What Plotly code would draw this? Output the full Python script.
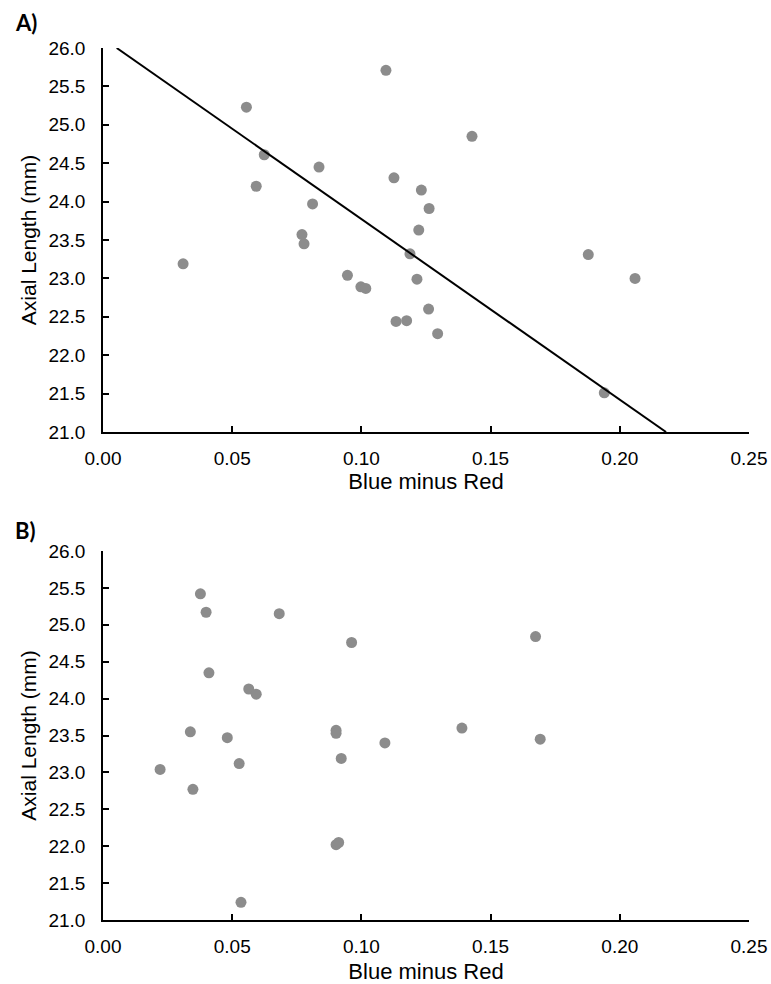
import plotly.graph_objects as go
from plotly.subplots import make_subplots

# Panel A data
a_x = [0.0555, 0.1095, 0.0624, 0.0836, 0.0593, 0.1126, 0.0811, 0.0770, 0.0778,
       0.1428, 0.1232, 0.1262, 0.1222, 0.0310, 0.0946, 0.0998, 0.1017, 0.1134,
       0.1188, 0.1878, 0.1215, 0.2059, 0.1260, 0.1175, 0.1295, 0.1940]
a_y = [25.23, 25.71, 24.61, 24.45, 24.20, 24.31, 23.97, 23.57, 23.45,
       24.85, 24.15, 23.91, 23.63, 23.19, 23.04, 22.89, 22.87, 22.44,
       23.32, 23.31, 22.99, 23.00, 22.60, 22.45, 22.28, 21.51]
# Panel A regression line end points
trend_x = [0.0053, 0.2179]
trend_y = [26.0, 21.0]

# Panel B data
b_x = [0.0377, 0.0399, 0.0682, 0.0962, 0.0410, 0.0564, 0.0593, 0.1674, 0.0338,
       0.0481, 0.0902, 0.0902, 0.1091, 0.0922, 0.0221, 0.0527, 0.0348, 0.0902,
       0.0912, 0.0534, 0.1389, 0.1692]
b_y = [25.42, 25.17, 25.15, 24.76, 24.35, 24.13, 24.06, 24.84, 23.55,
       23.47, 23.57, 23.53, 23.40, 23.19, 23.04, 23.12, 22.77, 22.02,
       22.05, 21.24, 23.60, 23.45]

x_ticks = [0.00, 0.05, 0.10, 0.15, 0.20, 0.25]
y_ticks = [21.0, 21.5, 22.0, 22.5, 23.0, 23.5, 24.0, 24.5, 25.0, 25.5, 26.0]
x_title = "Blue minus Red"
y_title = "Axial Length (mm)"
panel_labels = ["A)", "B)"]

W, H = 771, 984
mt, mb, ml, mr = 48, 64, 103, 22
ph = H - mt - mb
a_h, b_h = 384, 369

fig = make_subplots(rows=2, cols=1)
fig.update_layout(
    template="none",
    yaxis=dict(domain=[1 - a_h / ph, 1]),
    yaxis2=dict(domain=[0, b_h / ph]),
)

marker = dict(color="#8c8c8c", size=11, line=dict(width=0))
fig.add_trace(go.Scatter(x=a_x, y=a_y, mode="markers", marker=marker,
                         showlegend=False, cliponaxis=False), row=1, col=1)
fig.add_trace(go.Scatter(x=trend_x, y=trend_y, mode="lines",
                         line=dict(color="black", width=2), showlegend=False),
              row=1, col=1)
fig.add_trace(go.Scatter(x=b_x, y=b_y, mode="markers", marker=marker,
                         showlegend=False, cliponaxis=False), row=2, col=1)

axfont = dict(family="Liberation Sans", size=19, color="black")
xtitlefont = dict(family="Liberation Sans", size=22, color="black")
ytitlefont = dict(family="Liberation Sans", size=21, color="black")
for r, sto in ((1, 5), (2, 9)):
    fig.update_xaxes(range=[0, 0.25], tickvals=x_ticks, tickformat=".2f",
                     ticks="inside", ticklen=6, tickwidth=1.5, tickcolor="black",
                     showline=True, linecolor="black", linewidth=1.5,
                     showgrid=False, zeroline=False, tickfont=axfont,
                     ticklabelstandoff=8, automargin=False,
                     title=dict(text=x_title, font=xtitlefont, standoff=sto),
                     row=r, col=1)
    fig.update_yaxes(range=[21, 26], tickvals=y_ticks, tickformat=".1f",
                     ticks="inside", ticklen=6, tickwidth=1.5, tickcolor="black",
                     showline=True, linecolor="black", linewidth=1.5,
                     showgrid=False, zeroline=False, tickfont=axfont,
                     ticklabelstandoff=12, automargin=False,
                     title=dict(text=y_title, font=ytitlefont, standoff=6),
                     row=r, col=1)

lab_font = dict(family="Lato, Liberation Sans", size=22, color="black")
fig.add_annotation(text="<b>" + panel_labels[0] + "</b>", xref="paper", yref="paper",
                   x=(13 - ml) / (W - ml - mr), y=1 + (mt - 23) / ph,
                   xanchor="left", yanchor="middle", showarrow=False, font=lab_font)
fig.add_annotation(text="<b>" + panel_labels[1] + "</b>", xref="paper", yref="paper",
                   x=(13 - ml) / (W - ml - mr), y=(H - mb - 530) / ph,
                   xanchor="left", yanchor="middle", showarrow=False, font=lab_font)

fig.update_layout(
    width=W, height=H,
    font=dict(family="Liberation Sans", color="black"),
    margin=dict(l=ml, r=mr, t=mt, b=mb),
    paper_bgcolor="white", plot_bgcolor="white",
)

fig.write_html("out.html")
